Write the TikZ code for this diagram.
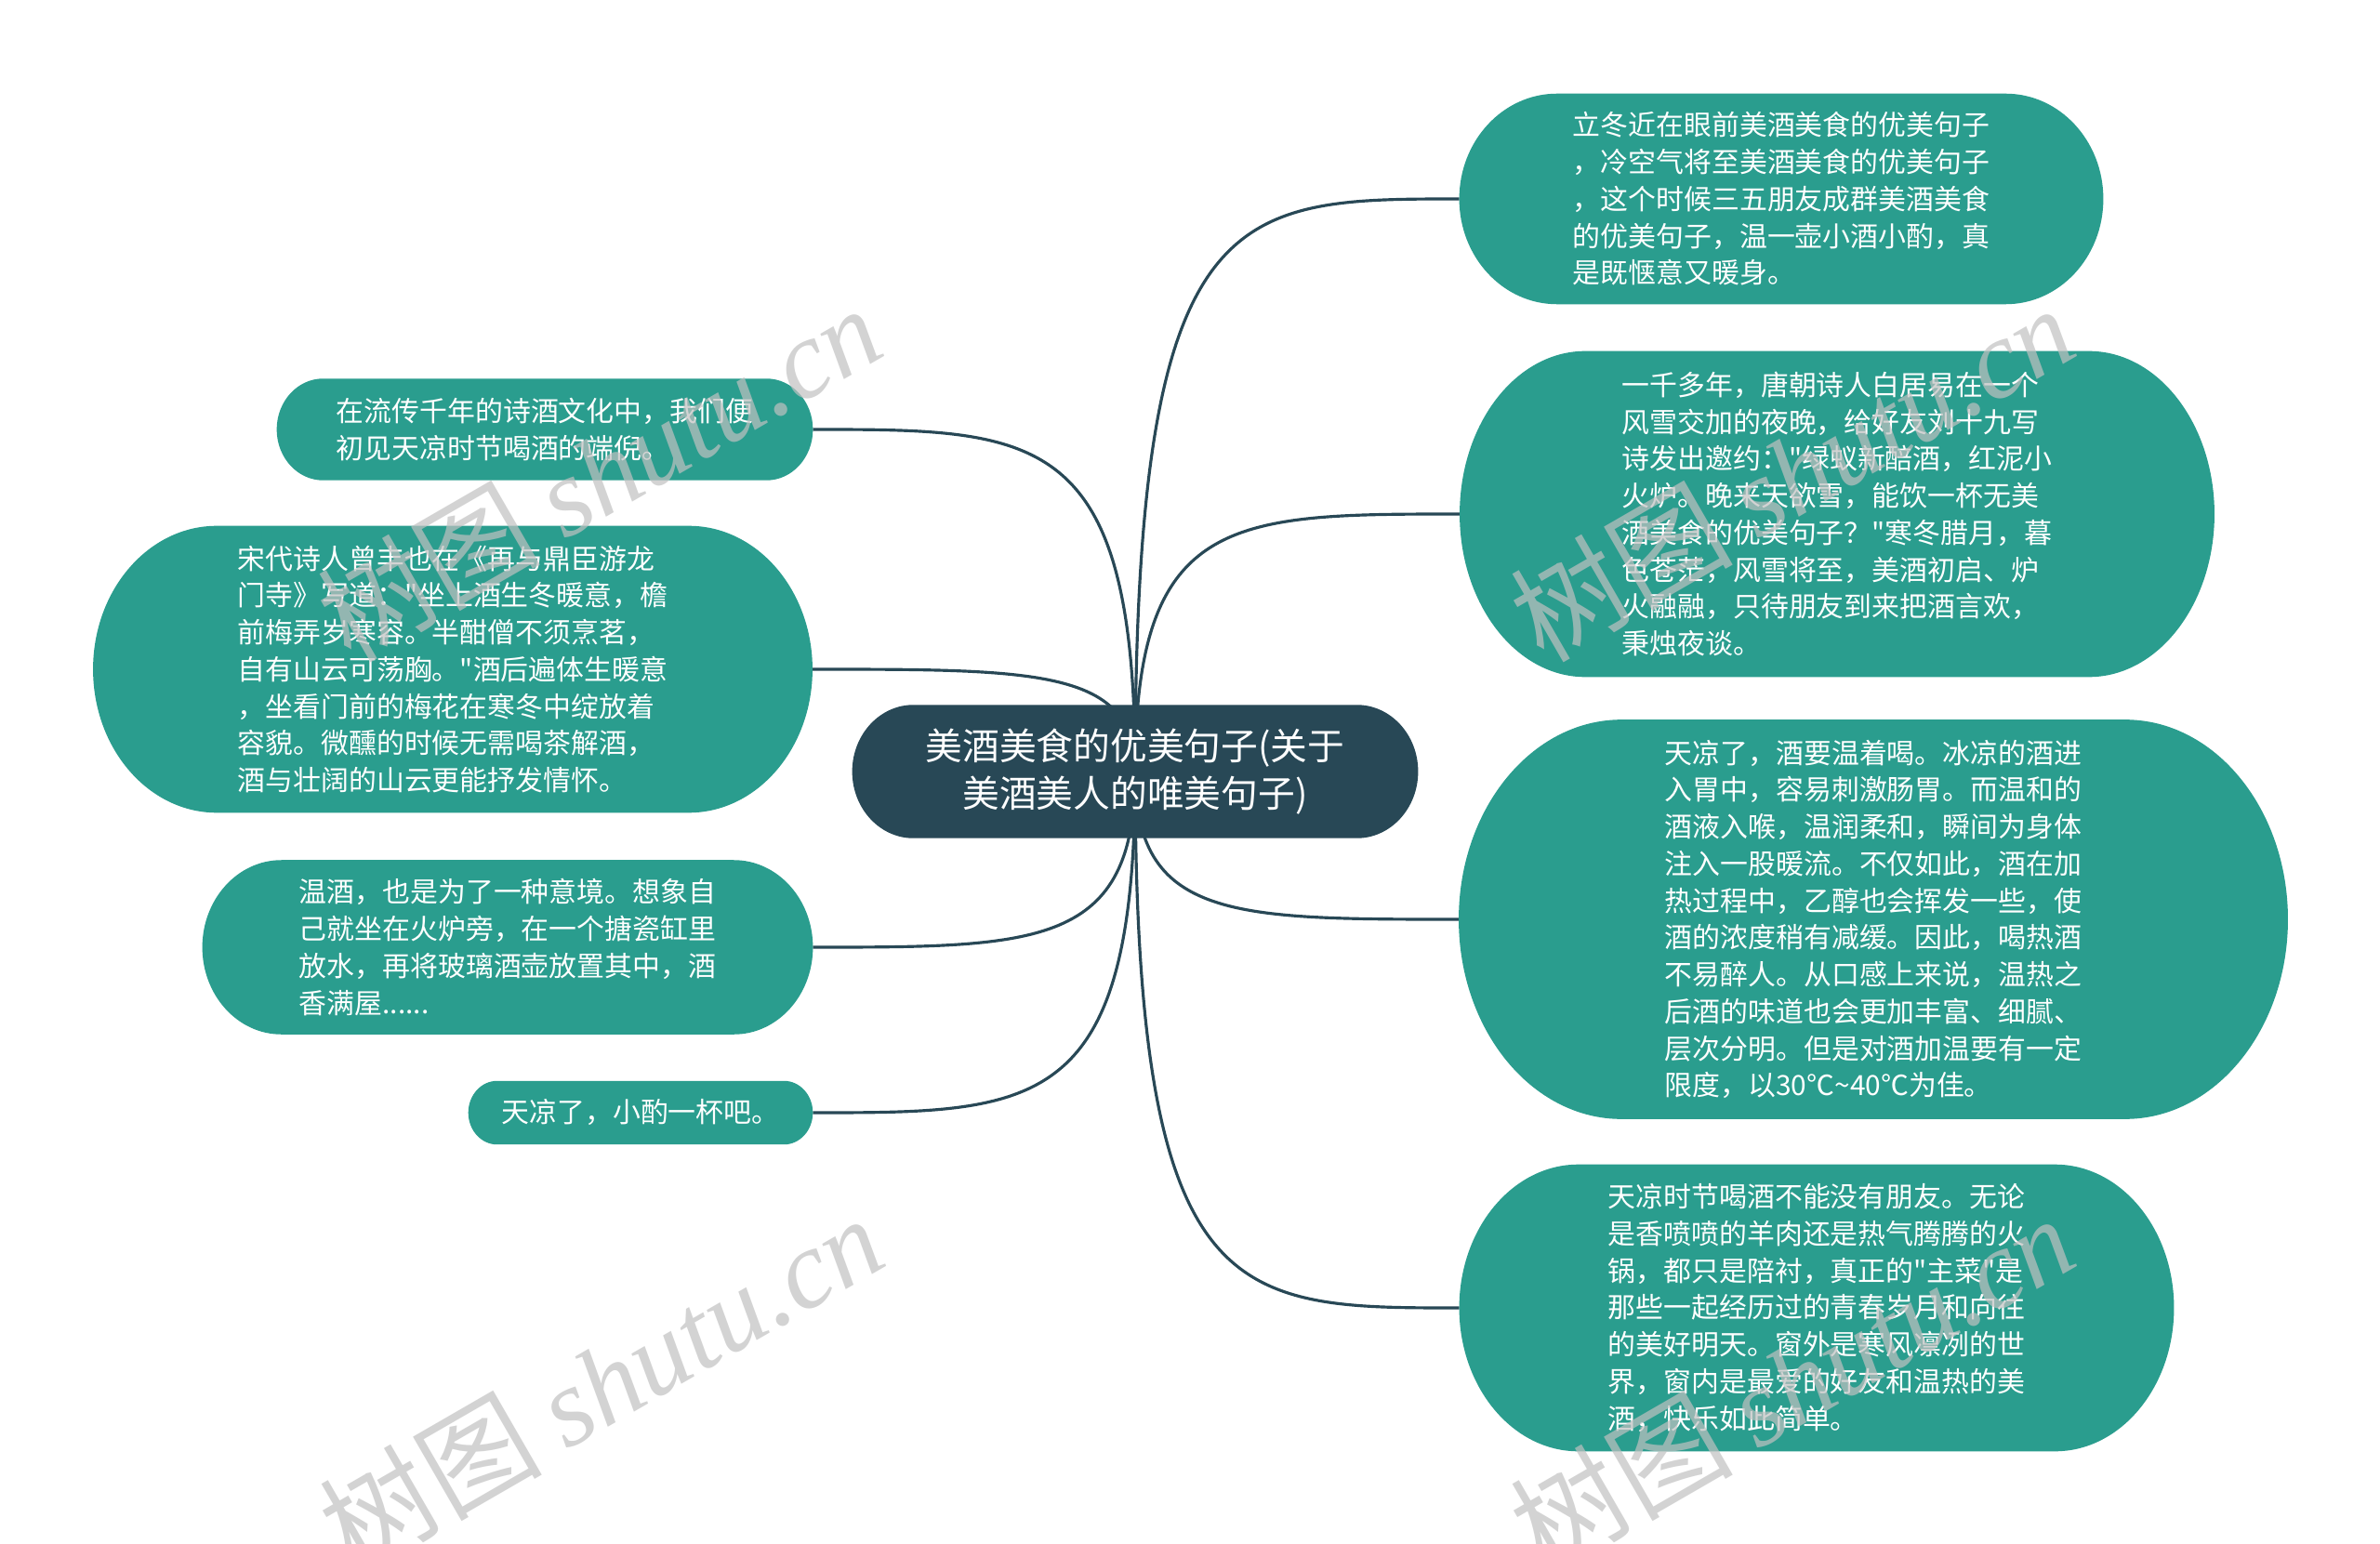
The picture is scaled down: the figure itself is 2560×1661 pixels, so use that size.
\documentclass[tikz,border=0pt]{standalone}
\usepackage{fontspec}
\setmainfont{Noto Sans CJK SC}[Ligatures=TeXOff]
\newfontfamily\wmlatin{Liberation Serif}
\usetikzlibrary{calc}
\definecolor{hubcol}{HTML}{284856}
\definecolor{leafcol}{HTML}{2A9D8E}
\definecolor{wmcol}{RGB}{193,193,193}
\pgfdeclarelayer{background}
\pgfsetlayers{background,main}
\tikzstyle{hub} = [text=white, align=center, inner sep=0pt, font=\fontsize{11.3}{14.4}\selectfont]
\tikzstyle{leaf} = [text=white, align=left, inner sep=0pt, font=\fontsize{8.5}{11.3}\selectfont]
\tikzstyle{link} = [draw=hubcol, line width=0.9pt, to path={.. controls (\tikztostart |- \tikztotarget) and ($(\tikztostart |- \tikztotarget)!0.3!(\tikztotarget)$) .. (\tikztotarget)}]
\tikzstyle{wmark} = [text=wmcol, opacity=0.7, rotate=30, font=\fontsize{34}{34}\selectfont]
% bubble with elliptic ends behind a node: name, end radius, colour
\newcommand{\pill}[3]{%
  \fill[#3] let \p1=(#1.north west), \p2=(#1.south east) in
    (\x1+#2,\y1) -- (\x2-#2,\y1) arc[start angle=90, end angle=-90, x radius=#2, y radius={(\y1-\y2)/2}]
    -- (\x1+#2,\y2) arc[start angle=270, end angle=90, x radius=#2, y radius={(\y1-\y2)/2}] -- cycle;}

\begin{document}
\begin{tikzpicture}[x=0.01cm, y=-0.01cm]
    \useasboundingbox (0,0) rectangle (2560,1661);

    % Centre topic
    \node[hub, minimum width=6.07cm, minimum height=1.42cm] (topic) at (1221,830) {美酒美食的优美句子(关于\\美酒美人的唯美句子)};

    % Right branches
    \node[leaf, minimum width=6.91cm, minimum height=2.25cm] (r1) at (1916,214) {立冬近在眼前美酒美食的优美句子\\，冷空气将至美酒美食的优美句子\\，这个时候三五朋友成群美酒美食\\的优美句子，温一壶小酒小酌，真\\是既惬意又暖身。};
    \node[leaf, minimum width=8.10cm, minimum height=3.49cm] (r2) at (1976,553) {一千多年，唐朝诗人白居易在一个\\风雪交加的夜晚，给好友刘十九写\\诗发出邀约："绿蚁新醅酒，红泥小\\火炉。晚来天欲雪，能饮一杯无美\\酒美食的优美句子？"寒冬腊月，暮\\色苍茫，风雪将至，美酒初启、炉\\火融融，只待朋友到来把酒言欢，\\秉烛夜谈。};
    \node[leaf, minimum width=8.90cm, minimum height=4.28cm] (r3) at (2015,989) {天凉了，酒要温着喝。冰凉的酒进\\入胃中，容易刺激肠胃。而温和的\\酒液入喉，温润柔和，瞬间为身体\\注入一股暖流。不仅如此，酒在加\\热过程中，乙醇也会挥发一些，使\\酒的浓度稍有减缓。因此，喝热酒\\不易醉人。从口感上来说，温热之\\后酒的味道也会更加丰富、细腻、\\层次分明。但是对酒加温要有一定\\限度，以30℃\textasciitilde40℃为佳。};
    \node[leaf, minimum width=7.67cm, minimum height=3.07cm] (r4) at (1954,1407) {天凉时节喝酒不能没有朋友。无论\\是香喷喷的羊肉还是热气腾腾的火\\锅，都只是陪衬，真正的"主菜"是\\那些一起经历过的青春岁月和向往\\的美好明天。窗外是寒风凛冽的世\\界，窗内是最爱的好友和温热的美\\酒，快乐如此简单。};

    % Left branches
    \node[leaf, minimum width=5.75cm, minimum height=1.08cm] (l1) at (586,462) {在流传千年的诗酒文化中，我们便\\初见天凉时节喝酒的端倪。};
    \node[leaf, minimum width=7.72cm, minimum height=3.07cm] (l2) at (487,720) {宋代诗人曾丰也在《再与鼎臣游龙\\门寺》写道："坐上酒生冬暖意，檐\\前梅弄岁寒容。半酣僧不须烹茗，\\自有山云可荡胸。"酒后遍体生暖意\\，坐看门前的梅花在寒冬中绽放着\\容貌。微醺的时候无需喝茶解酒，\\酒与壮阔的山云更能抒发情怀。};
    \node[leaf, minimum width=6.55cm, minimum height=1.86cm] (l3) at (546,1019) {温酒，也是为了一种意境。想象自\\己就坐在火炉旁，在一个搪瓷缸里\\放水，再将玻璃酒壶放置其中，酒\\香满屋......};
    \node[leaf, minimum width=3.69cm, minimum height=0.67cm] (l4) at (689,1197) {天凉了，小酌一杯吧。};

    \begin{pgfonlayer}{background}
        \fill[white] (0,0) rectangle (2560,1661);
        % Links from the centre
        \draw[link] (topic.center) to (r1.west);
        \draw[link] (topic.center) to (r2.west);
        \draw[link] (topic.center) to (r3.west);
        \draw[link] (topic.center) to (r4.west);
        \draw[link] (topic.center) to (l1.east);
        \draw[link] (topic.center) to (l2.east);
        \draw[link] (topic.center) to (l3.east);
        \draw[link] (topic.center) to (l4.east);
        % Bubbles
        \pill{topic}{0.66cm}{hubcol}
        \pill{r1}{1.05cm}{leafcol}
        \pill{r2}{1.35cm}{leafcol}
        \pill{r3}{1.75cm}{leafcol}
        \pill{r4}{1.28cm}{leafcol}
        \pill{l1}{0.50cm}{leafcol}
        \pill{l2}{1.33cm}{leafcol}
        \pill{l3}{0.85cm}{leafcol}
        \pill{l4}{0.31cm}{leafcol}
    \end{pgfonlayer}

    % Watermark
    \node[wmark] (wm1) at (644,508) {树图 {\wmlatin\itshape shutu.cn}};
    \node[wmark] (wm2) at (1927,508) {树图 {\wmlatin\itshape shutu.cn}};
    \node[wmark] (wm3) at (646,1487) {树图 {\wmlatin\itshape shutu.cn}};
    \node[wmark] (wm4) at (1927,1487) {树图 {\wmlatin\itshape shutu.cn}};
\end{tikzpicture}
\end{document}
